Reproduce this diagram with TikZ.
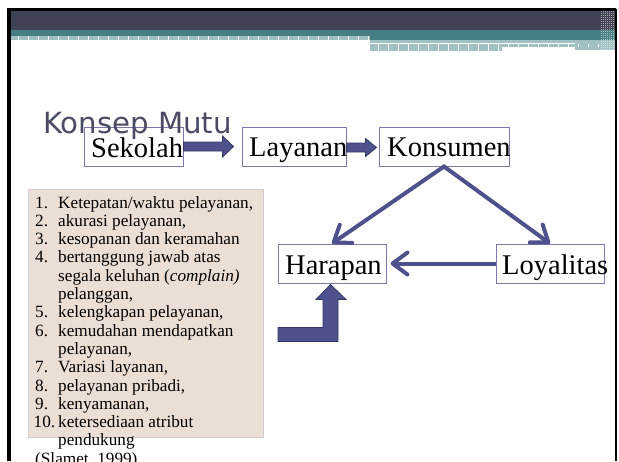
\documentclass[tikz,border=0pt]{standalone}
\usepackage{fontspec}
\setmainfont{Liberation Serif}
\newfontfamily\titlefont{DejaVu Sans}
\usetikzlibrary{arrows.meta,calc}
\definecolor{darkbar}{RGB}{65,66,83}
\definecolor{tealbar}{RGB}{69,126,131}
\definecolor{stripfill}{RGB}{160,192,194}
\definecolor{titlecol}{RGB}{75,76,100}
\definecolor{boxline}{RGB}{122,122,176}
\definecolor{arrowcol}{RGB}{79,81,140}
\definecolor{arrowedge}{RGB}{52,54,100}
\definecolor{listfill}{RGB}{234,222,213}
\definecolor{listedge}{RGB}{208,204,210}
\begin{document}
\begin{tikzpicture}[x=1pt,y=-1pt,
  box/.style={draw=boxline, line width=1pt, rectangle, inner sep=0pt, minimum height=39pt},
  boxlabel/.style={anchor=base west, inner sep=0pt, font={\fontsize{28.5}{34}\selectfont}},
  barbtip/.tip={Straight Barb[length=15pt,width=22pt,round]},
  linkarrow/.style={draw=arrowcol, line width=4pt, -barbtip},
  linkpair/.style={draw=arrowcol, line width=4pt, line join=miter, barbtip-barbtip},
  blockarrow/.style={fill=arrowcol, draw=arrowedge, line width=0.8pt, line join=miter},
  tick/.style={white, line width=0.7pt}
]
\useasboundingbox (0,0) rectangle (619,461);
\clip (0,0) rectangle (619,461);
\fill[white] (0,0) rectangle (619,461);

% header
\fill[darkbar] (10,11) rectangle (615,30);
\fill[tealbar] (10,30) rectangle (370,36.3);
\fill[tealbar] (370,30) rectangle (615,40.3);
\fill[stripfill] (10,36.3) rectangle (370,40.3);
\fill[stripfill] (370,40.3) rectangle (600,47.3);
\fill[stripfill] (370,47.3) rectangle (502,51.3);
\fill[stripfill] (575,40.3) rectangle (615,50);
\fill[white] (370,42.6) rectangle (575,44.0);
\foreach \x in {18,28,...,368} \draw[tick] (\x,36.3) -- (\x,40.3);
\foreach \x in {378,388,...,598} \draw[tick] (\x,44) -- (\x,47.3);
\foreach \x in {378,388,...,498} \draw[tick] (\x,47.3) -- (\x,51.3);
\foreach \i in {0,...,6} \foreach \j in {0,...,19}
  \fill[white, opacity=0.55] ({601+2*\i},{11+2*\j}) rectangle +(1,1);

% frame
\draw[black, line width=3.5pt] (8.8,461) -- (8.8,9.5) -- (616,9.5);
\draw[black, line width=2pt] (616.3,9) -- (616.3,461);

% list box
\node[draw=listedge, fill=listfill, line width=0.8pt, inner sep=0pt,
      minimum width=235pt, minimum height=248pt] (listbox) at (145.5,313) {};
\node[anchor=base west, inner sep=0pt, font={\fontsize{17.2}{18.3}\selectfont}] (list) at (35,208) {%
\begin{tabular}[t]{@{}l@{}l@{}}
\makebox[23pt][l]{1.} & Ketepatan/waktu pelayanan,\\
\makebox[23pt][l]{2.} & akurasi pelayanan,\\
\makebox[23pt][l]{3.} & kesopanan dan keramahan\\
\makebox[23pt][l]{4.} & bertanggung jawab atas\\
 & segala keluhan (\textit{complain)}\\
 & pelanggan,\\
\makebox[23pt][l]{5.} & kelengkapan pelayanan,\\
\makebox[23pt][l]{6.} & kemudahan mendapatkan\\
 & pelayanan,\\
\makebox[23pt][l]{7.} & Variasi layanan,\\
\makebox[23pt][l]{8.} & pelayanan pribadi,\\
\makebox[23pt][l]{9.} & kenyamanan,\\
\makebox[23pt][l]{\hspace{-1.5pt}10.} & ketersediaan atribut\\
 & pendukung\\
\multicolumn{2}{@{}l@{}}{(Slamet, 1999)}
\end{tabular}};

% boxes
\node[box, minimum width=99pt]  (sekolah)   at (133.5,146.5) {};
\node[box, minimum width=104pt] (layanan)   at (294,146.5) {};
\node[box, minimum width=130pt] (konsumen)  at (444,146.5) {};
\node[box, minimum width=108pt] (harapan)   at (332,263.5) {};
\node[box, minimum width=108pt] (loyalitas) at (550,263.5) {};

\node[boxlabel] (sekolahT)   at (91,157)  {Sekolah};
\node[boxlabel] (layananT)   at (249,156) {Layanan};
\node[boxlabel] (konsumenT)  at (387,156) {Konsumen};
\node[boxlabel] (harapanT)   at (285,274) {Harapan};
\node[boxlabel] (loyalitasT) at (502,274) {Loyalitas};

% title
\node[anchor=base west, inner sep=0pt, text=titlecol,
      font={\titlefont\fontsize{29.2}{35}\selectfont}] (title) at (43,133) {Konsep Mutu};

% block arrows
\draw[blockarrow] ($(sekolah.east)+(0,-4.5)$) -- ++(39,0) -- ++(0,-6) -- ++(11,10.5)
   -- ++(-11,10.5) -- ++(0,-6) -- ++(-39,0) -- cycle;
\draw[blockarrow] ($(layanan.east)+(0,-3.5)$) -- ++(19,0) -- ++(0,-4.5) -- ++(11,9)
   -- ++(-11,9) -- ++(0,-4.5) -- ++(-19,0) -- cycle;
\draw[blockarrow] ($(harapan.south)+(-1.5,1)$) -- ++(15.5,15) -- ++(-8,0) -- ++(0,42)
   -- ++(-60,0) -- ++(0,-14) -- ++(45,0) -- ++(0,-28) -- ++(-7,0) -- cycle;

% line arrows
\draw[linkpair] (harapan.north) -- (konsumen.south) -- (loyalitas.north);
\draw[linkarrow] (loyalitas.west) -- ([xshift=4pt]harapan.east);
\end{tikzpicture}
\end{document}
